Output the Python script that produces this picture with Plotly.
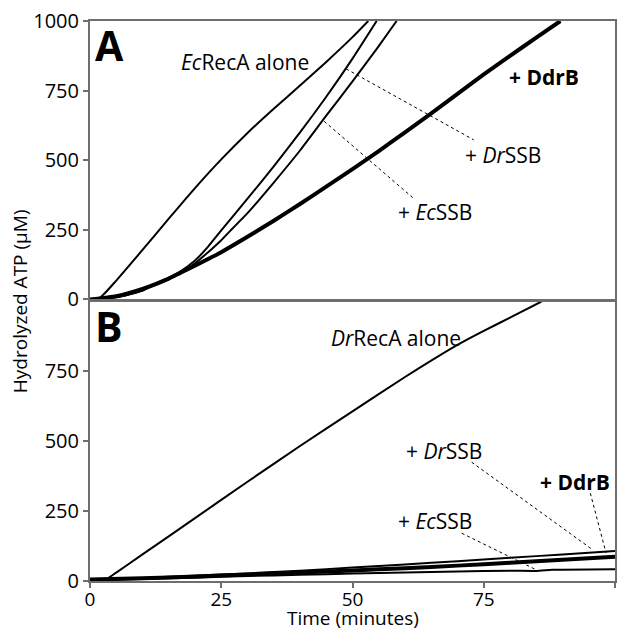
import plotly.graph_objects as go

# ---------------- data ----------------
# Panel A (EcRecA)
a_alone_t = [0, 2, 5, 10, 15, 20, 25, 30, 35, 40, 45, 50, 53]
a_alone_y = [0, 8, 68, 178, 290, 400, 503, 598, 685, 768, 853, 942, 1000]

a_drssb_t = [0, 5, 10, 12.6, 15, 17, 20, 22.5, 25, 30, 35, 40, 45, 50, 54.6]
a_drssb_y = [0, 8, 32, 58, 78, 98, 140, 190, 248, 362, 478, 600, 728, 865, 1000]

a_ecssb_t = [0, 5, 10, 12.6, 15, 17, 20, 22.5, 25, 27.2, 30, 35, 40, 45, 50, 55, 58.4]
a_ecssb_y = [0, 8, 32, 58, 77, 95, 130, 170, 213, 256, 310, 420, 535, 660, 783, 910, 1000]

a_ddrb_t = [0, 5, 10, 15, 19, 25, 30, 35, 40, 45, 50, 55, 60, 65, 70, 75, 80, 85, 89.6]
a_ddrb_y = [0, 12, 38, 75, 112, 170, 225, 283, 343, 405, 468, 533, 600, 668, 738, 808, 875, 940, 1000]

# Panel B (DrRecA)
b_alone_t = [0, 2.5, 5, 10, 20, 30, 40, 50, 60, 70, 75, 80, 86]
b_alone_y = [0, 0, 30, 95, 225, 355, 483, 607, 730, 845, 895, 942, 1000]

b_drssb_t = [0, 10, 20, 30, 40, 50, 60, 70, 80, 90, 100]
b_drssb_y = [5, 11, 19, 27, 37, 48, 59, 71, 83, 95, 107]

b_ddrb_t = [0, 10, 20, 30, 40, 50, 60, 70, 80, 90, 100]
b_ddrb_y = [5, 10, 16, 23, 30, 38, 46, 55, 65, 76, 87]

b_ecssb_t = [0, 10, 20, 30, 40, 50, 60, 70, 80, 85, 88, 90, 100]
b_ecssb_y = [3, 7, 12, 18, 22, 27, 30, 34, 37, 36, 40, 40, 42]

x_ticks = [0, 25, 50, 75, 100]
y_ticks_a = [0, 250, 500, 750, 1000]
y_ticks_b = [0, 250, 500, 750]

FONT = "Open Sans"
FRAME = "#6e6e6e"
INK = "#000000"

fig = go.Figure()

def add(t, y, xa, ya, w):
    fig.add_trace(go.Scatter(x=t, y=y, mode="lines", xaxis=xa, yaxis=ya,
                             line=dict(color="black", width=w, shape="spline", smoothing=0.5),
                             showlegend=False, hoverinfo="skip"))

# Panel A
add(a_alone_t, a_alone_y, "x2", "y2", 2)
add(a_drssb_t, a_drssb_y, "x2", "y2", 2)
add(a_ecssb_t, a_ecssb_y, "x2", "y2", 2)
add(a_ddrb_t, a_ddrb_y, "x2", "y2", 4)
# Panel B
add(b_alone_t, b_alone_y, "x", "y", 2)
add(b_ecssb_t, b_ecssb_y, "x", "y", 2)
add(b_drssb_t, b_drssb_y, "x", "y", 2)
add(b_ddrb_t, b_ddrb_y, "x", "y", 4)

axis_common = dict(showline=True, linecolor=FRAME, linewidth=2, mirror=True,
                   showgrid=False, zeroline=False,
                   tickfont=dict(family=FONT, size=20, color=INK))

fig.update_layout(
    width=624, height=632,
    margin=dict(l=90, r=7, t=19, b=51),
    paper_bgcolor="white", plot_bgcolor="white",
    font=dict(family=FONT, color=INK),
    xaxis=dict(domain=[0, 1], range=[0, 100], anchor="y", tickvals=x_ticks,
               ticks="outside", ticklen=5, tickcolor=FRAME, tickwidth=1.5,
               ticklabelstandoff=-5, **axis_common),
    yaxis=dict(domain=[0, 0.4991], range=[0, 1000], anchor="x", tickvals=y_ticks_b,
               ticks="outside", ticklen=5, tickcolor=FRAME, tickwidth=1.5, **axis_common),
    xaxis2=dict(domain=[0, 1], range=[0, 100], anchor="y2", tickvals=x_ticks,
                showticklabels=False, ticks="", **axis_common),
    yaxis2=dict(domain=[0.5027, 1], range=[0, 1000], anchor="x2", tickvals=y_ticks_a,
                ticks="outside", ticklen=5, tickcolor=FRAME, tickwidth=1.5, **axis_common),
)
fig.update_xaxes(selector=dict(anchor="y"), tickfont=dict(family=FONT, size=19, color=INK))

ann = []
def label(text, x, y, xr, yr, size=21, yanchor="middle", **kw):
    ann.append(dict(text=text, x=x, y=y, xref=xr, yref=yr, showarrow=False,
                    font=dict(family=FONT, size=size, color=INK),
                    xanchor="center", yanchor=yanchor, **kw))

# panel letters
label("<b>A</b>", 0.038, 0.958, "paper", "paper", size=41)
label("<b>B</b>", 0.036, 0.456, "paper", "paper", size=41)

# Panel A labels
label("<i>Ec</i>RecA alone", 29.6, 853, "x2", "y2")
label("<b>+ DdrB</b>", 86.5, 799, "x2", "y2")
label("+ <i>Dr</i>SSB", 78.7, 520, "x2", "y2")
label("+ <i>Ec</i>SSB", 65.8, 315, "x2", "y2")
# Panel B labels
label("<i>Dr</i>RecA alone", 58.3, 871, "x", "y")
label("+ <i>Dr</i>SSB", 67.4, 464, "x", "y")
label("<b>+ DdrB</b>", 92.4, 354, "x", "y")
label("+ <i>Ec</i>SSB", 65.7, 214, "x", "y")

# axis titles
label("Hydrolyzed ATP (μM)", -0.133, 0.5, "paper", "paper", size=19, textangle=-90)
label("Time (minutes)", 0.5, -0.093, "paper", "paper", size=19, yanchor="bottom")

fig.update_layout(annotations=ann)

# dotted leader lines
leaders = [
    ("x2", "y2", 48.8, 828, 73.1, 573),
    ("x2", "y2", 44.6, 640, 61.7, 362),
    ("x", "y", 72.7, 425, 95.8, 111),
    ("x", "y", 95.3, 314, 98.3, 100),
    ("x", "y", 70.8, 171, 85.0, 40),
]
for xr, yr, x0, y0, x1, y1 in leaders:
    fig.add_shape(type="line", xref=xr, yref=yr, x0=x0, y0=y0, x1=x1, y1=y1,
                  line=dict(color="black", width=1, dash="dot"))

fig.write_html("out.html",
               config={"displayModeBar": False},
               post_script="document.body.style.margin='0';document.body.style.padding='0';"
                           "document.body.style.overflow='hidden';")
